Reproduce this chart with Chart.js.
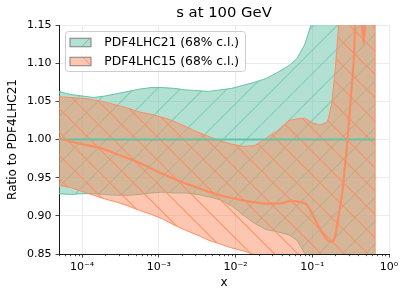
<!DOCTYPE html>
<html><head><meta charset="utf-8">
<script src="https://cdn.jsdelivr.net/npm/chart.js@4/dist/chart.umd.min.js"></script>
<style>html,body{margin:0;padding:0;background:#fff}#wrap{width:407px;height:299px}</style>
</head><body><div id="wrap"><canvas id="c" width="407" height="299"></canvas></div>
<script>
// ---------- text ----------
const chartTitle = 's at 100 GeV';
const xLabel = 'x';
const yLabel = 'Ratio to PDF4LHC21';
const seriesNames = ['PDF4LHC21 (68% c.l.)', 'PDF4LHC15 (68% c.l.)'];

// ---------- axes ----------
const xRange = [5e-5, 1];
const yRange = [0.85, 1.15];
const yTickStep = 0.05;
const xMajorTicks = [1e-4, 1e-3, 1e-2, 1e-1, 1];
const xTickLabels = ['10\u207B\u2074', '10\u207B\u00B3', '10\u207B\u00B2', '10\u207B\u00B9', '10\u2070'];

// ---------- data ----------
const bandX = [5.0e-5, 7.08e-5, 1.0e-4, 1.41e-4, 2.0e-4, 2.82e-4, 3.98e-4, 5.62e-4, 7.94e-4,
  1.12e-3, 1.58e-3, 2.24e-3, 3.16e-3, 4.47e-3, 6.31e-3, 8.91e-3, 1.26e-2, 1.78e-2, 2.51e-2,
  3.55e-2, 5.01e-2, 6.31e-2, 7.94e-2, 0.100, 0.126, 0.158, 0.178, 0.200, 0.224, 0.251,
  0.316, 0.398, 0.501, 0.660];

const pdf21Upper = [1.063, 1.059, 1.057, 1.055, 1.057, 1.060, 1.063, 1.066, 1.068,
  1.068, 1.067, 1.065, 1.064, 1.063, 1.065, 1.067, 1.071, 1.075, 1.080,
  1.088, 1.097, 1.106, 1.124, 1.155, 1.20, 1.26, 1.29, 1.33, 1.36, 1.40,
  1.45, 1.50, 1.55, 1.60];
const pdf21Lower = [0.929, 0.928, 0.929, 0.929, 0.928, 0.927, 0.927, 0.928, 0.930,
  0.931, 0.930, 0.930, 0.928, 0.925, 0.921, 0.913, 0.901, 0.890, 0.882,
  0.879, 0.875, 0.868, 0.851, 0.82, 0.78, 0.74, 0.72, 0.70, 0.68, 0.66,
  0.63, 0.60, 0.58, 0.56];
const pdf21Central = [1.0, 1.0];
const pdf21CentralX = [5.0e-5, 0.660];

const pdf15Upper = [1.056, 1.055, 1.054, 1.052, 1.049, 1.045, 1.041, 1.036, 1.033,
  1.029, 1.024, 1.017, 1.010, 1.004, 0.998, 0.994, 0.991, 0.992, 1.002,
  1.012, 1.025, 1.027, 1.028, 1.022, 1.019, 1.023, 1.045, 1.093, 1.16, 1.25,
  1.35, 1.40, 1.45, 1.50];
const pdf15Lower = [0.940, 0.937, 0.932, 0.927, 0.922, 0.918, 0.913, 0.907, 0.902,
  0.896, 0.888, 0.881, 0.875, 0.868, 0.863, 0.858, 0.854, 0.849, 0.842,
  0.835, 0.825, 0.815, 0.805, 0.79, 0.77, 0.75, 0.74, 0.73, 0.72, 0.71,
  0.69, 0.67, 0.65, 0.62];
const pdf15CentralX = [5.0e-5, 7.94e-5, 1.26e-4, 1.84e-4, 3.16e-4, 5.75e-4, 1.05e-3, 1.91e-3,
  3.16e-3, 4.27e-3, 6.31e-3, 9.33e-3, 1.70e-2, 2.82e-2, 3.55e-2, 4.47e-2, 5.25e-2, 6.31e-2,
  7.08e-2, 8.13e-2, 9.12e-2, 0.100, 0.129, 0.158, 0.182, 0.200, 0.219, 0.245, 0.269, 0.288,
  0.316, 0.347, 0.363, 0.398, 0.427, 0.445, 0.466, 0.486, 0.513, 0.661];
const pdf15Central = [1.002, 0.996, 0.992, 0.988, 0.979, 0.969, 0.956, 0.945,
  0.937, 0.932, 0.927, 0.923, 0.918, 0.916, 0.916, 0.918, 0.920, 0.919,
  0.918, 0.916, 0.910, 0.903, 0.881, 0.868, 0.866, 0.875, 0.899, 0.929, 0.969, 1.000,
  1.052, 1.104, 1.150, 1.21, 1.18, 1.15, 1.126, 1.15, 1.20, 1.30];

// ---------- style ----------
const GREEN = '#66c2a5', ORANGE = '#fc8d62';
const AXIS = '#1a1a1a', GRID = '#ebebeb';
const FONT = "'DejaVu Sans', sans-serif";

function makeHatch(fill, line, dir, phase) {
  const T = 70, P = T / 3;
  const c = document.createElement('canvas'); c.width = T; c.height = T;
  const g = c.getContext('2d');
  g.fillStyle = fill; g.fillRect(0, 0, T, T);
  g.strokeStyle = line; g.lineWidth = 1.1;
  g.beginPath();
  for (let k = -8; k <= 12; k++) {
    const cc = phase + k * P;
    if (dir === '/') { g.moveTo(cc + 10, -10); g.lineTo(cc - T - 10, T + 10); }
    else { g.moveTo(cc - 10, -10); g.lineTo(cc + T + 10, T + 10); }
  }
  g.stroke();
  return g.createPattern(c, 'repeat');
}
const greenHatch = makeHatch('rgba(102,194,165,0.5)', 'rgba(102,194,165,0.6)', '/', 12.6);
const orangeHatch = makeHatch('rgba(252,141,98,0.5)', 'rgba(252,141,98,0.85)', '\\', 20.6);

const pts = (xs, ys) => xs.map((x, i) => ({ x, y: ys[i] }));
const last = bandX.length - 1;

const minorTickPlugin = {
  id: 'minorTicks',
  afterDraw(chart) {
    const s = chart.scales.x, c = chart.ctx;
    c.save(); c.strokeStyle = AXIS; c.lineWidth = 0.8;
    c.beginPath();
    s.ticks.forEach(t => {
      if (t.major) return;
      const px = Math.round(s.getPixelForValue(t.value)) + 0.5;
      c.moveTo(px, s.top); c.lineTo(px, s.top + 2.2);
    });
    c.stroke(); c.restore();
  }
};

const legendPlugin = {
  id: 'bandLegend',
  afterDraw(chart) {
    const c = chart.ctx, a = chart.chartArea;
    const bx = a.left + 6.5, by = a.top + 6.5, bw = 180, bh = 40;
    c.save();
    c.beginPath(); c.roundRect(bx, by, bw, bh, 3);
    c.fillStyle = 'rgba(255,255,255,0.8)'; c.fill();
    c.strokeStyle = '#cccccc'; c.lineWidth = 1; c.stroke();
    const rows = [
      { name: seriesNames[0], fill: 'rgba(102,194,165,0.5)', line: 'rgba(102,194,165,0.9)', dir: '/', cy: by + 11 },
      { name: seriesNames[1], fill: 'rgba(252,141,98,0.5)', line: 'rgba(252,141,98,0.9)', dir: '\\', cy: by + 30 }
    ];
    rows.forEach(r => {
      const px = bx + 4.5, pw = 21, ph = 8.5, py = r.cy - ph / 2;
      c.fillStyle = '#fff'; c.fillRect(px, py, pw, ph);
      c.fillStyle = r.fill; c.fillRect(px, py, pw, ph);
      c.save(); c.beginPath(); c.rect(px, py, pw, ph); c.clip();
      c.strokeStyle = r.line; c.lineWidth = 1; c.beginPath();
      if (r.dir === '/') { c.moveTo(px + 11, py + ph + 1); c.lineTo(px + 20.5, py - 1); }
      else { c.moveTo(px + 12, py - 1); c.lineTo(px + 22, py + ph + 1); }
      c.stroke(); c.restore();
      c.strokeStyle = '#7f7f7f'; c.lineWidth = 1; c.strokeRect(px, py, pw, ph);
      c.fillStyle = '#000'; c.font = '12.3px ' + FONT; c.textBaseline = 'middle'; c.textAlign = 'left';
      c.fillText(r.name, bx + 38.8, r.cy + 0.5);
    });
    c.restore();
  }
};

const xTickValues = [];
for (let e = -5; e <= -1; e++) for (let k = 1; k <= 9; k++) {
  const v = k * Math.pow(10, e);
  if (v >= xRange[0] * 0.999 && v <= xRange[1]) xTickValues.push({ value: v, major: k === 1 });
}
xTickValues.push({ value: 1, major: true });

Chart.defaults.font.family = FONT;
Chart.defaults.color = '#000';

new Chart(document.getElementById('c'), {
  type: 'line',
  data: {
    datasets: [
      { data: pts(bandX, pdf21Upper), borderColor: GREEN, borderWidth: 1, backgroundColor: greenHatch, fill: '+1', pointRadius: 0, order: 10, clip: 0 },
      { data: pts(bandX, pdf21Lower), borderColor: GREEN, borderWidth: 1, fill: false, pointRadius: 0, order: 11, clip: 0 },
      { data: pts(bandX, pdf15Upper), borderColor: ORANGE, borderWidth: 1, backgroundColor: orangeHatch, fill: '+1', pointRadius: 0, order: 9, clip: 0 },
      { data: pts(bandX, pdf15Lower), borderColor: ORANGE, borderWidth: 1, fill: false, pointRadius: 0, order: 8, clip: 0 },
      { data: [{ x: bandX[last], y: pdf15Lower[last] }, { x: bandX[last], y: pdf15Upper[last] }], borderColor: ORANGE, borderWidth: 1, fill: false, pointRadius: 0, order: 8, clip: 0 },
      { data: pts(pdf21CentralX, pdf21Central), borderColor: GREEN, borderWidth: 2.2, fill: false, pointRadius: 0, order: 2, clip: 0 },
      { data: pts(pdf15CentralX, pdf15Central), borderColor: ORANGE, borderWidth: 2.2, fill: false, pointRadius: 0, order: 1, clip: 0, cubicInterpolationMode: 'monotone' }
    ]
  },
  options: {
    responsive: false, animation: false, events: [],
    layout: { padding: { left: 0, right: 18, top: 0, bottom: 0 } },
    plugins: {
      legend: { display: false }, tooltip: { enabled: false },
      title: { display: true, text: chartTitle, fullSize: false, color: '#000',
        font: { size: 14.8, weight: 'normal', family: FONT }, padding: { top: 4, bottom: 3.24 } }
    },
    scales: {
      x: {
        type: 'logarithmic', min: xRange[0], max: xRange[1],
        afterBuildTicks: s => { s.ticks = xTickValues.map(t => ({ value: t.value, major: t.major })); },
        afterFit: s => { s.height = 45; },
        grid: {
          color: c => (c.tick && c.tick.major) ? GRID : 'rgba(0,0,0,0)',
          tickColor: c => (c.tick && c.tick.major) ? AXIS : 'rgba(0,0,0,0)',
          tickLength: 3.5, lineWidth: 1, tickWidth: 0.8
        },
        border: { display: true, color: AXIS, width: 1 },
        ticks: {
          autoSkip: false, maxRotation: 0, minRotation: 0, padding: 3, color: '#000',
          font: { size: 11 },
          callback: (v, i, t) => {
            if (!t[i].major) return '';
            const j = xMajorTicks.findIndex(m => Math.abs(Math.log10(m) - Math.log10(v)) < 1e-6);
            return j >= 0 ? xTickLabels[j] : '';
          }
        },
        title: { display: true, text: xLabel, color: '#000', font: { size: 12 }, padding: { top: 0, bottom: 9 } }
      },
      y: {
        min: yRange[0], max: yRange[1],
        afterFit: s => { s.width = 59; },
        grid: { color: GRID, tickColor: AXIS, tickLength: 3.5, lineWidth: 1, tickWidth: 0.8 },
        border: { display: true, color: AXIS, width: 1 },
        ticks: { stepSize: yTickStep, padding: 4, color: '#000', font: { size: 11 }, callback: v => v.toFixed(2) },
        title: { display: true, text: yLabel, color: '#000', font: { size: 12 }, padding: { top: 5.3, bottom: 0 } }
      }
    }
  },
  plugins: [minorTickPlugin, legendPlugin]
});
</script>
</body></html>
